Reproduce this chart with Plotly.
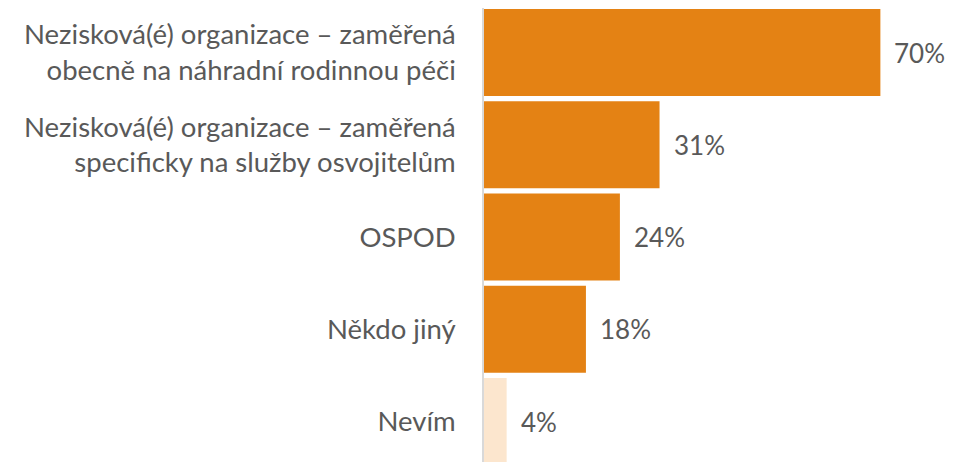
import plotly.graph_objects as go

categories = [
    "Nezisková(é) organizace – zaměřená<br>obecně na náhradní rodinnou péči",
    "Nezisková(é) organizace – zaměřená<br>specificky na služby osvojitelům",
    "OSPOD",
    "Někdo jiný",
    "Nevím",
]
values = [70, 31, 24, 18, 4]
labels = ["70%", "31%", "24%", "18%", "4%"]
colors = ["#E48214", "#E48214", "#E48214", "#E48214", "#FCE6CE"]

FONT = "Lato"
GRAY = "#595959"

fig = go.Figure(
    go.Bar(
        x=values,
        y=categories,
        orientation="h",
        marker=dict(color=colors, line=dict(width=0)),
        hoverinfo="skip",
    )
)

for v, c, t in zip(values, categories, labels):
    fig.add_annotation(
        x=v, y=c, text=t, showarrow=False, xanchor="left", yanchor="middle",
        xshift=12, font=dict(family=FONT, size=26, color=GRAY),
    )

# page body has an 8px default margin, so the figure is sized to fit the window
fig.update_layout(
    width=945, height=454,
    margin=dict(l=476, r=16, t=0, b=0),
    paper_bgcolor="white", plot_bgcolor="white",
    bargap=0.057,
    showlegend=False,
    font=dict(family=FONT, size=27, color=GRAY),
)
fig.update_xaxes(range=[0, 80], visible=False, showgrid=False, zeroline=False)
fig.update_yaxes(
    type="category",
    range=[4.439, -0.4824],
    showline=True, linecolor="#D9D9D9", linewidth=1.5,
    showgrid=False, zeroline=False,
    ticks="outside", ticklen=0, ticklabelstandoff=21,
    tickfont=dict(family=FONT, size=27.5, color=GRAY),
)

fig.write_html("out.html")
